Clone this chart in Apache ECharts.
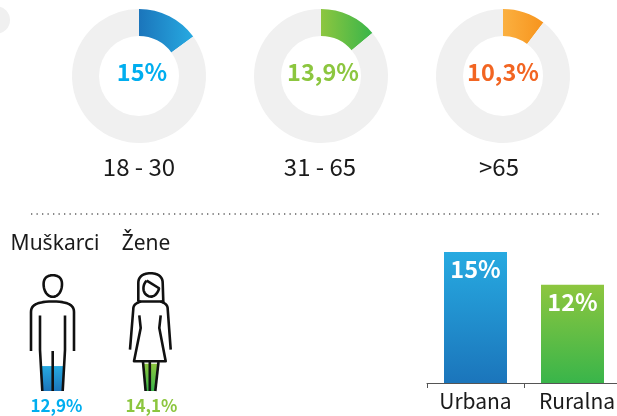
<!DOCTYPE html>
<html><head><meta charset="utf-8">
<style>html,body{margin:0;padding:0;background:#fff}#c{width:617px;height:416px}</style>
<script src="https://cdn.jsdelivr.net/npm/echarts@6/dist/echarts.min.js"></script>
</head><body><div id="c"></div>
<script>
const FONT = '"Noto Sans CJK SC", "Noto Sans", sans-serif';
const FONT2 = '"Noto Sans", sans-serif';
const ageLabels = ['18 - 30', '31 - 65', '>65'];
const ageValues = [15, 13.9, 10.3];
const ageValueText = ['15%', '13,9%', '10,3%'];
const ageTextColors = ['#00aeef', '#8cc63f', '#f26522'];
const genderLabels = ['Muškarci', 'Žene'];
const genderValues = [12.9, 14.1];
const genderValueText = ['12,9%', '14,1%'];
const areaLabels = ['Urbana', 'Ruralna'];
const areaValues = [15, 12];
const areaValueText = ['15%', '12%'];

const grad = (x2, y2, a, b) => new echarts.graphic.LinearGradient(0, 0, x2, y2, [{offset:0,color:a},{offset:1,color:b}]);
const donutGrads = [['#1b75bb','#27aae1'],['#8dc63f','#39b54a'],['#fbb040','#f7941d']];
const centersX = [139, 321, 503];
const labelShift = [3, 2, 0];

const pies = ageValues.map((v, i) => ({
  type: 'pie', center: [centersX[i], 76], radius: [40, 67], startAngle: 90, silent: true,
  animation: false, labelLine: {show:false},
  data: [
    {value: v, itemStyle: {color: grad(1, 0, donutGrads[i][0], donutGrads[i][1])},
     label: {show:true, position:'center', formatter: ageValueText[i], color: ageTextColors[i],
             fontFamily: FONT, fontWeight:'bold', fontSize:23.5, offset:[labelShift[i], -4]}},
    {value: 100 - v, itemStyle: {color:'#f0f0f0'}, label:{show:false}}
  ]
}));

const man = 'M43.6 284 C43.6 277.5 48 275.2 52.8 275.2 C57.6 275.2 62 277.5 62 284 C62 291.5 58 296.8 52.8 296.8 C47.6 296.8 43.6 291.5 43.6 284 Z '
 + 'M31 351 L31 312 C31 305 37 301.5 52.7 301.5 C68 301.5 74 305 74 312 L74 351 '
 + 'M40 315.5 L40 350 L42.3 391 M65 315.5 L65 350 L62.7 391 M52.7 351 L52.7 391';
const woman = 'M138.3 301.5 L138.3 283 C138.3 276 144 273.2 150.5 273.2 C157 273.2 162.7 276 162.7 283 L163.3 301.5 Z '
 + 'M146.7 280.7 C143 284 142.5 290 145 293.5 C149 298.5 156.5 298 159.2 288 M146.7 280.7 L159.5 288.5 '
 + 'M141 301.5 C136 303 133.3 305 133.3 309 L130 349.7 M160.5 301.5 C165 303 167.7 305 167.7 309 L170.7 349.7 '
 + 'M139.3 315.3 L140.7 328 L134 361.3 L165.7 361.3 L159.3 328 L160.7 315.3 '
 + 'M143 362 L145.6 391 M149.8 360 L149.8 391 M158.5 362 L155.3 391';

function outline(d) {
  const t = d.trim().split(/\s+|(?=[MLCZ])|(?<=[MLCZ])/).filter(Boolean);
  const out = []; let cur = null, i = 0, cmd = '';
  const n = () => parseFloat(t[i++]);
  while (i < t.length) {
    cmd = t[i++];
    if (cmd === 'M') { cur = [[n(), n()]]; out.push(cur); }
    else if (cmd === 'L') { cur.push([n(), n()]); }
    else if (cmd === 'Z') { cur.push(cur[0]); }
    else if (cmd === 'C') {
      const p0 = cur[cur.length-1], a=[n(),n()], b=[n(),n()], c=[n(),n()];
      for (let k=1;k<=12;k++){ const s=k/12, r=1-s;
        cur.push([r*r*r*p0[0]+3*r*r*s*a[0]+3*r*s*s*b[0]+s*s*s*c[0], r*r*r*p0[1]+3*r*r*s*a[1]+3*r*s*s*b[1]+s*s*s*c[1]]); }
    }
  }
  return out.map(points => ({type:'polyline', z:20, silent:true, shape:{points}, style:{fill:'none', stroke:'#111', lineWidth:2.6, lineJoin:'round'}}));
}

const mask = pts => ({type:'polygon', z:19, silent:true, shape:{points:pts}, style:{fill:'#fff'}});
const txt = (t, x, y, size, font) => ({type:'text', z:20, silent:true, style:{text:t, x, y, fill:'#1a1a1a', font:`${size}px ${font||FONT}`, textAlign:'center', textVerticalAlign:'middle'}});

const genderCats = (i, color, shift) => ({
  gridIndex:i, type:'category',
  data:[{value: genderValueText[i], textStyle:{color}}],
  axisLine:{show:false}, axisTick:{show:false},
  axisLabel:{fontFamily:FONT, fontWeight:'bold', fontSize:17, margin:6, padding:[0,0,0,shift]}
});

const option = {
  animation:false,
  backgroundColor:'#fff',
  textStyle:{fontFamily:FONT},
  grid:[
    {left:4.5, width:97, top:275, height:116, outerBoundsMode:'none'},
    {left:101.5, width:97, top:275, height:116, outerBoundsMode:'none'},
    {left:427, width:194, top:252, height:131, outerBoundsMode:'none'}
  ],
  xAxis:[
    genderCats(0, '#00aeef', 7),
    genderCats(1, '#8cc63f', 3),
    {gridIndex:2, type:'category',
     data:[{value:areaLabels[0]}, {value:areaLabels[1], textStyle:{padding:[0,0,0,9]}}],
     axisLine:{lineStyle:{color:'#555', width:1}},
     axisTick:{show:true, alignWithLabel:false, interval:0, length:5, lineStyle:{color:'#555'}},
     axisLabel:{color:'#1a1a1a', fontFamily:FONT, fontSize:21, margin:8, interval:0, hideOverlap:false}}
  ],
  yAxis:[
    {gridIndex:0, type:'value', min:0, max:60, show:false},
    {gridIndex:1, type:'value', min:0, max:60, show:false},
    {gridIndex:2, type:'value', min:3, max:15, show:false}
  ],
  series: pies.concat([
    {type:'bar', xAxisIndex:0, yAxisIndex:0, barWidth:22, silent:true, data:[genderValues[0]],
     itemStyle:{color:grad(0,1,'#27aae1','#1b75bb')}},
    {type:'bar', xAxisIndex:1, yAxisIndex:1, barWidth:15, silent:true, data:[genderValues[1]],
     itemStyle:{color:grad(0,1,'#8dc63f','#39b54a')}},
    {type:'bar', xAxisIndex:2, yAxisIndex:2, barWidth:63, silent:true,
     data:[
       {value:areaValues[0], itemStyle:{color:grad(0,1,'#27aae1','#1b75bb')}},
       {value:areaValues[1], itemStyle:{color:grad(0,1,'#8dc63f','#39b54a')}}
     ],
     label:{show:true, position:'insideTop', distance:5.5, color:'#fff', fontFamily:FONT, fontWeight:'bold', fontSize:23.5,
            formatter:p=>areaValueText[p.dataIndex]}}
  ]),
  graphic:[
    {type:'circle', silent:true, shape:{cx:-3.85, cy:20, r:13.85}, style:{fill:'#f0f0f0'}},
    {type:'line', silent:true, shape:{x1:31, y1:214, x2:601, y2:214}, style:{stroke:'#111', lineWidth:1.1, lineDash:[1.3,4.2]}},
    txt(ageLabels[0], 139, 167, 24),
    txt(ageLabels[1], 320, 167, 24),
    txt(ageLabels[2], 499, 167, 24),
    txt(genderLabels[0], 55, 244, 21, FONT2),
    txt(genderLabels[1], 146, 244, 21, FONT2),
    mask([[140,362],[143,362],[145.6,392],[140,392]]),
    mask([[160,362],[158.5,362],[155.3,392],[160,392]]),
    mask([[39,360],[41.3,360],[42.3,392],[39,392]]),
    mask([[66,360],[63.4,360],[62.7,392],[66,392]])
  ].concat(outline(man), outline(woman))
};
echarts.init(document.getElementById('c'), null, {renderer:'canvas'}).setOption(option);
</script></body></html>
